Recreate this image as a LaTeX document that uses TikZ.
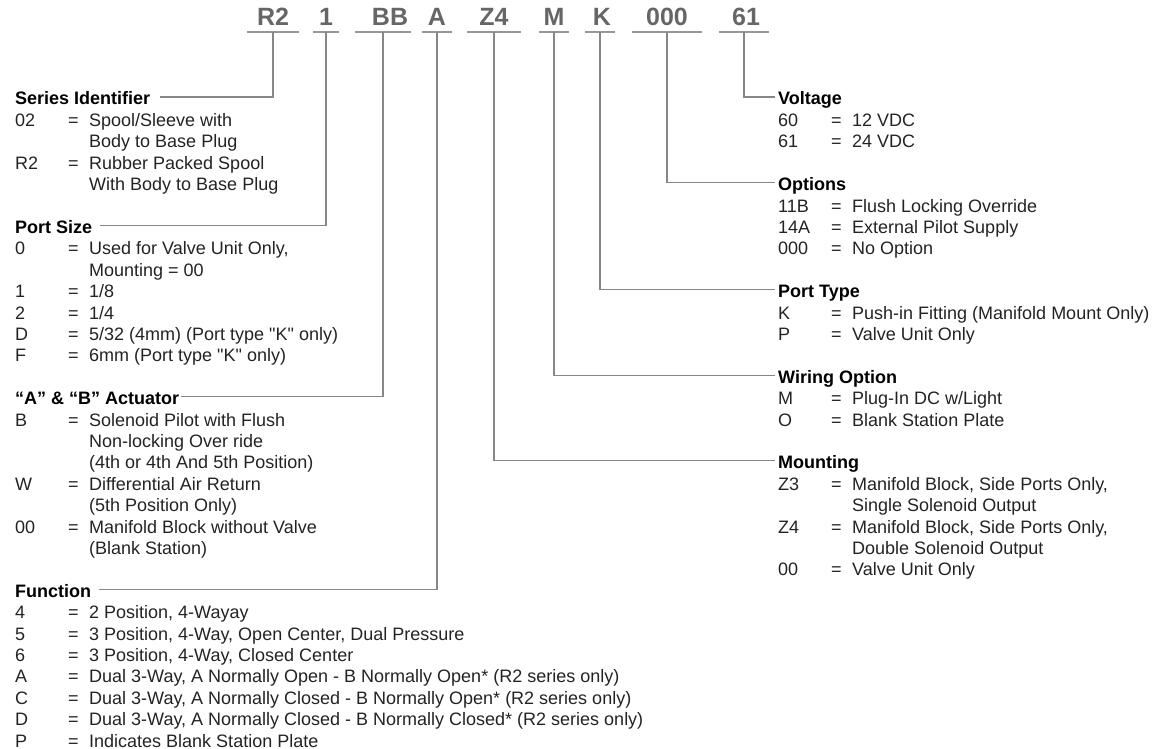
\documentclass[tikz,border=0pt]{standalone}
\usepackage{fontspec}
\setmainfont{Liberation Sans}[Ligatures=TeXOff]
\definecolor{slate}{RGB}{102,102,102}
\definecolor{rulegray}{RGB}{150,150,150}
\definecolor{wire}{RGB}{135,135,135}
\definecolor{ink}{RGB}{35,35,35}
\tikzset{
  codetag/.style={font=\fontsize{25}{25}\selectfont\bfseries,text=slate,
    inner xsep=0pt,inner ysep=6pt,text depth=0pt,minimum width=#1,anchor=base},
  underrule/.style={draw=rulegray,line width=2pt},
  lead/.style={draw=wire,line width=1.2pt,shorten >=#1},
  lead/.default=8pt,
  heading/.style={font=\fontsize{18}{21.4}\selectfont\bfseries,inner sep=0pt,
    text height=16pt,text depth=0pt,anchor=base west},
  entries/.style={font=\fontsize{18}{21.4}\selectfont,text=ink,inner sep=0pt,anchor=base west},
}
\newcommand\codelist[1]{\begin{tabular}[t]{@{}p{53pt}@{}p{21pt}@{}l@{}}#1\end{tabular}}

\begin{document}
\begin{tikzpicture}[x=1pt,y=-1pt]
  \useasboundingbox (0,0) rectangle (1164,749);
  % model code
  \node[codetag=52pt] (ser)  at (273,26) {R2};
  \node[codetag=25pt] (size) at (326,26) {1};
  \node[codetag=56pt] (act)  at (383,26) {\hspace{14pt}BB};
  \node[codetag=30pt] (fun)  at (437,26) {A};
  \node[codetag=53pt] (mnt)  at (494,26) {Z4\hspace{12pt}};
  \node[codetag=30pt] (wir)  at (554,26) {M};
  \node[codetag=30pt] (typ)  at (600,26) {\hspace{4pt}K};
  \node[codetag=69pt] (opt)  at (667,26) {000};
  \node[codetag=50pt] (volt) at (744,26) {\hspace{4pt}61};
  \foreach \n in {ser,size,act,fun,mnt,wir,typ,opt,volt}
    \draw[underrule] (\n.south west) -- (\n.south east);

  % left column
  \node[heading] (ser-t) at (15,105) {Series Identifier};
  \node[entries] (ser-l) at (15,126.4) {\codelist{02 & = & Spool/Sleeve with\\
    & & Body to Base Plug\\ R2 & = & Rubber Packed Spool\\ & & With Body to Base Plug}};
  \node[heading] (size-t) at (15,233.4) {Port Size};
  \node[entries] (size-l) at (15,254.8) {\codelist{0 & = & Used for Valve Unit Only,\\
    & & Mounting = 00\\ 1 & = & 1/8\\ 2 & = & 1/4\\
    D & = & 5/32 (4mm) (Port type "K" only)\\ F & = & 6mm (Port type "K" only)}};
  \node[heading] (act-t) at (15,404.6) {“A” \& “B” Actuator};
  \node[entries] (act-l) at (15,426) {\codelist{B & = & Solenoid Pilot with Flush\\
    & & Non-locking Over ride\\ & & (4th or 4th And 5th Position)\\
    W & = & Differential Air Return\\ & & (5th Position Only)\\
    00 & = & Manifold Block without Valve\\ & & (Blank Station)}};
  \node[heading] (fun-t) at (15,597.2) {Function};
  \node[entries] (fun-l) at (15,618.6) {\codelist{4 & = & 2 Position, 4-Wayay\\
    5 & = & 3 Position, 4-Way, Open Center, Dual Pressure\\
    6 & = & 3 Position, 4-Way, Closed Center\\
    A & = & Dual 3-Way, A Normally Open - B Normally Open* (R2 series only)\\
    C & = & Dual 3-Way, A Normally Closed - B Normally Open* (R2 series only)\\
    D & = & Dual 3-Way, A Normally Closed - B Normally Closed* (R2 series only)\\
    P & = & Indicates Blank Station Plate}};

  % right column
  \node[heading] (volt-t) at (778,105) {Voltage};
  \node[entries] (volt-l) at (778,126.4) {\codelist{60 & = & 12 VDC\\ 61 & = & 24 VDC}};
  \node[heading] (opt-t) at (778,190.6) {Options};
  \node[entries] (opt-l) at (778,212) {\codelist{11B & = & Flush Locking Override\\
    14A & = & External Pilot Supply\\ 000 & = & No Option}};
  \node[heading] (typ-t) at (778,297.6) {Port Type};
  \node[entries] (typ-l) at (778,319) {\codelist{K & = & Push-in Fitting (Manifold Mount Only)\\
    P & = & Valve Unit Only}};
  \node[heading] (wir-t) at (778,383.2) {Wiring Option};
  \node[entries] (wir-l) at (778,404.6) {\codelist{M & = & Plug-In DC w/Light\\
    O & = & Blank Station Plate}};
  \node[heading] (mnt-t) at (778,468.8) {Mounting};
  \node[entries] (mnt-l) at (778,490.2) {\codelist{Z3 & = & Manifold Block, Side Ports Only,\\
    & & Single Solenoid Output\\ Z4 & = & Manifold Block, Side Ports Only,\\
    & & Double Solenoid Output\\ 00 & = & Valve Unit Only}};

  % leaders
  \draw[lead=10pt] (ser) |- (ser-t);
  \draw[lead] (size) |- (size-t);
  \draw[lead=2pt] (act) |- (act-t);
  \draw[lead] (fun) |- (fun-t);
  \foreach \n in {volt,opt,typ,wir,mnt}
    \draw[lead=3pt] (\n) |- (\n-t);
\end{tikzpicture}
\end{document}
